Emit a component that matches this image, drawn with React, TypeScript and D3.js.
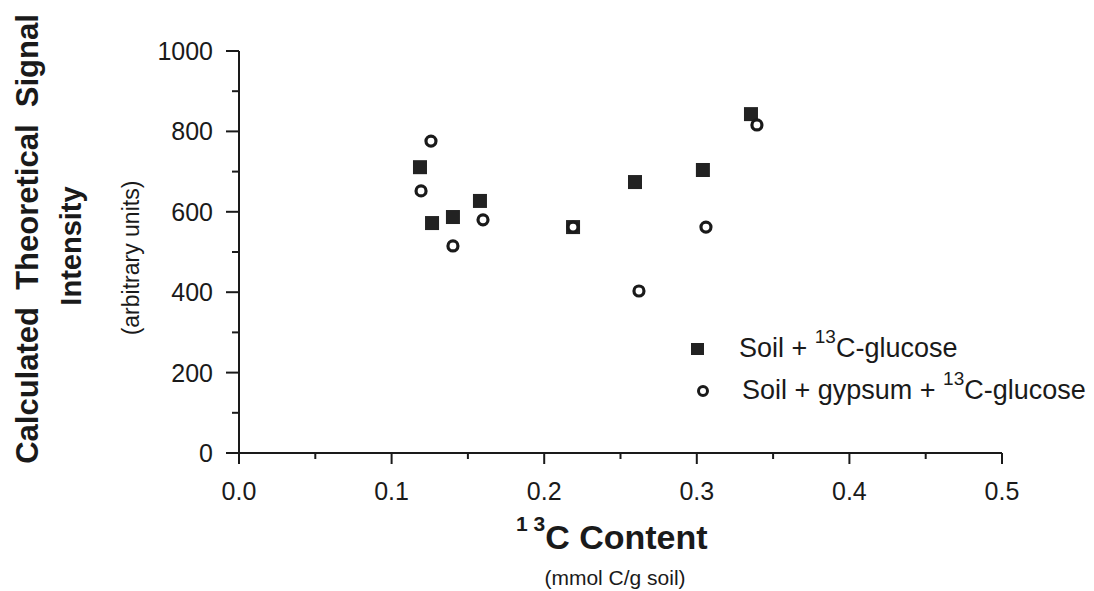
import React from "react";
import * as d3 from "d3";

// Soil + 13C-glucose (filled squares)
const glucoseX = [0.1186, 0.1265, 0.1402, 0.1579, 0.2189, 0.2595, 0.304, 0.3355];
const glucoseY = [711, 572, 587, 627, 562, 674, 704, 843];
// Soil + gypsum + 13C-glucose (open circles)
const gypsumX = [0.1258, 0.1193, 0.1402, 0.1599, 0.2189, 0.2621, 0.306, 0.3394];
const gypsumY = [776, 652, 515, 580, 562, 403, 562, 816];

const xTicks = [0, 0.1, 0.2, 0.3, 0.4, 0.5];
const xMinorTicks = [0.05, 0.15, 0.25, 0.35, 0.45];
const yTicks = [0, 200, 400, 600, 800, 1000];
const yMinorTicks = [100, 300, 500, 700, 900];

const W = 1094;
const H = 591;
const left = 239;
const right = 1002;
const top = 51;
const bottom = 453;

const FONT = "'Liberation Sans', Arial, Helvetica, sans-serif";

export default function App() {
  const x = d3.scaleLinear().domain([0, 0.5]).range([left, right]);
  const y = d3.scaleLinear().domain([0, 1000]).range([bottom, top]);
  const sq = 14;
  const glucose = glucoseX.map((v, i) => ({ x: v, y: glucoseY[i] }));
  const gypsum = gypsumX.map((v, i) => ({ x: v, y: gypsumY[i] }));

  return (
    <svg
      width={W}
      height={H}
      style={{ position: "absolute", left: 0, top: 0, background: "#fff" }}
      fontFamily={FONT}
    >
      <rect x={0} y={0} width={W} height={H} fill="#fff" />
      {/* axes */}
      <line x1={left} x2={left} y1={top} y2={bottom + 8} stroke="#1a1a1a" strokeWidth={2} />
      <line x1={left - 8} x2={right} y1={bottom} y2={bottom} stroke="#1a1a1a" strokeWidth={2} />
      {yTicks.map((t) => (
        <g key={"yt" + t}>
          <line x1={left - 13} x2={left} y1={y(t)} y2={y(t)} stroke="#1a1a1a" strokeWidth={2} />
          <text x={213} y={y(t)} dy="0.36em" textAnchor="end" fontSize={25} fill="#1a1a1a">
            {t}
          </text>
        </g>
      ))}
      {yMinorTicks.map((t) => (
        <line key={"ym" + t} x1={left - 7} x2={left} y1={y(t)} y2={y(t)} stroke="#1a1a1a" strokeWidth={2} />
      ))}
      {xTicks.map((t) => (
        <g key={"xt" + t}>
          <line x1={x(t)} x2={x(t)} y1={bottom} y2={bottom + 11} stroke="#1a1a1a" strokeWidth={2} />
          <text x={x(t)} y={500} textAnchor="middle" fontSize={25} fill="#1a1a1a">
            {t.toFixed(1)}
          </text>
        </g>
      ))}
      {xMinorTicks.map((t) => (
        <line key={"xm" + t} x1={x(t)} x2={x(t)} y1={bottom} y2={bottom + 6} stroke="#1a1a1a" strokeWidth={2} />
      ))}

      {/* data */}
      {glucose.map((d, i) => (
        <rect
          key={"g" + i}
          x={x(d.x) - sq / 2}
          y={y(d.y) - sq / 2}
          width={sq}
          height={sq}
          fill="#222"
        />
      ))}
      {gypsum.map((d, i) => (
        <circle
          key={"c" + i}
          cx={x(d.x)}
          cy={y(d.y)}
          r={5}
          fill="#fff"
          stroke="#1a1a1a"
          strokeWidth={3.2}
        />
      ))}

      {/* legend */}
      <rect x={691} y={343} width={13} height={12} fill="#222" />
      <text x={739} y={357} fontSize={27} fill="#1a1a1a">
        {"Soil +\u00A0"}
        <tspan dy={-14} fontSize={19}>13</tspan>
        <tspan dy={14}>C-glucose</tspan>
      </text>
      <circle cx={703} cy={391} r={4.5} fill="#fff" stroke="#1a1a1a" strokeWidth={3} />
      <text x={742} y={399} fontSize={27} fill="#1a1a1a">
        {"Soil + gypsum +\u00A0"}
        <tspan dy={-14} fontSize={19}>13</tspan>
        <tspan dy={14}>C-glucose</tspan>
      </text>

      {/* x axis title */}
      <text x={516} y={549} fontSize={34} fontWeight="bold" fill="#1a1a1a">
        <tspan dy={-18} fontSize={21}>1 3</tspan>
        <tspan dy={18}>C Content</tspan>
      </text>
      <text x={615} y={585} textAnchor="middle" fontSize={21} fill="#1a1a1a">
        (mmol C/g soil)
      </text>

      {/* y axis title */}
      <text
        transform={`translate(38,239) rotate(-90)`}
        textAnchor="middle"
        fontSize={31}
        fontWeight="bold"
        fill="#1a1a1a"
      >
        {"Calculated\u00A0\u00A0Theoretical\u00A0\u00A0Signal"}
      </text>
      <text
        transform={`translate(81,246) rotate(-90)`}
        textAnchor="middle"
        fontSize={29}
        fontWeight="bold"
        fill="#1a1a1a"
      >
        Intensity
      </text>
      <text
        transform={`translate(139,258) rotate(-90)`}
        textAnchor="middle"
        fontSize={23}
        fill="#1a1a1a"
      >
        (arbitrary units)
      </text>
    </svg>
  );
}
